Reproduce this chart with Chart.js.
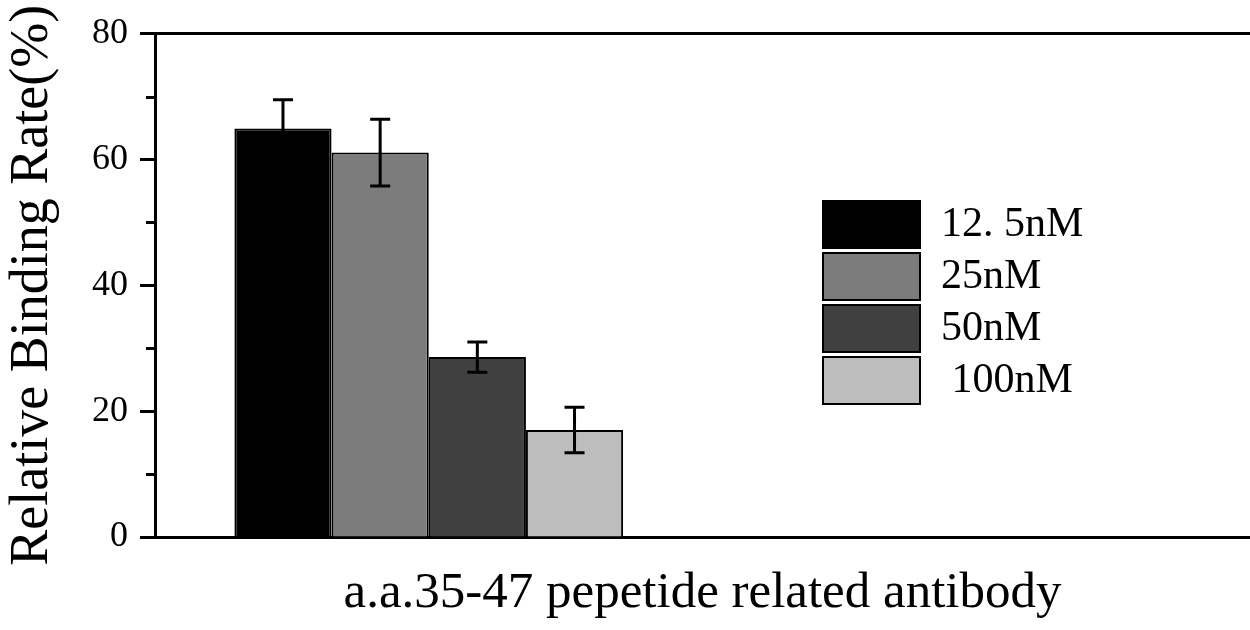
<!DOCTYPE html>
<html>
<head>
<meta charset="utf-8">
<script src="https://cdn.jsdelivr.net/npm/chart.js@4.4.1/dist/chart.umd.min.js"></script>
<style>
  html, body { margin: 0; padding: 0; background: #ffffff; }
  #wrap { width: 1250px; height: 630px; }
</style>
</head>
<body>
<div id="wrap"><canvas id="c" width="1250" height="630"></canvas></div>
<script>
// ---- data ----
const categories = ['a.a.35-47 pepetide related antibody', ''];
const seriesLabels = ['12. 5nM', '25nM', '50nM', ' 100nM'];
const seriesMeans = [64.9, 61.1, 28.6, 17.0];
const seriesErrors = [4.6, 5.3, 2.4, 3.6];
const seriesColors = ['#000000', '#7c7c7c', '#404040', '#bdbdbd'];
const yMajorTicks = [0, 20, 40, 60, 80];
const yMinorTicks = [10, 30, 50, 70];
const xTitle = 'a.a.35-47 pepetide related antibody';
const yTitle = 'Relative Binding Rate(%)';

const FONT = "'Liberation Serif', 'Times New Roman', serif";

const datasets = seriesLabels.map((lab, i) => ({
  label: lab,
  data: categories.map((c, j) => (j === 0 ? seriesMeans[i] : null)),
  errors: categories.map((c, j) => (j === 0 ? seriesErrors[i] : null)),
  backgroundColor: seriesColors[i],
  borderColor: '#000000',
  borderWidth: 2,
  barPercentage: 1.0,
  categoryPercentage: 0.71
}));

const errorBars = {
  id: 'errorBars',
  afterDatasetsDraw(chart) {
    const ctx = chart.ctx;
    const ys = chart.scales.y;
    ctx.save();
    ctx.strokeStyle = '#000000';
    ctx.lineWidth = 3;
    chart.data.datasets.forEach((ds, i) => {
      const meta = chart.getDatasetMeta(i);
      meta.data.forEach((el, j) => {
        const v = ds.data[j], e = ds.errors[j];
        if (v == null || e == null) return;
        const yt = ys.getPixelForValue(v + e);
        const yb = ys.getPixelForValue(v - e);
        const x = el.x;
        ctx.beginPath();
        ctx.moveTo(x, yt); ctx.lineTo(x, yb);
        ctx.moveTo(x - 10, yt); ctx.lineTo(x + 10, yt);
        ctx.moveTo(x - 10, yb); ctx.lineTo(x + 10, yb);
        ctx.stroke();
      });
    });
    ctx.restore();
  }
};

const minorTicks = {
  id: 'minorTicks',
  afterDraw(chart) {
    const ctx = chart.ctx;
    const ys = chart.scales.y;
    const left = chart.chartArea.left;
    ctx.save();
    ctx.strokeStyle = '#000000';
    ctx.lineWidth = 3;
    yMinorTicks.forEach(v => {
      const y = Math.round(ys.getPixelForValue(v)) + 0.5;
      ctx.beginPath();
      ctx.moveTo(left - 9, y); ctx.lineTo(left, y);
      ctx.stroke();
    });
    ctx.restore();
  }
};

const legendMover = {
  id: 'legendMover',
  afterLayout(chart) {
    const lg = chart.legend;
    if (!lg) return;
    const w = lg.width, h = lg.height;
    lg.left = 818; lg.top = 196;
    lg.right = lg.left + w; lg.bottom = lg.top + h;
  }
};

new Chart(document.getElementById('c'), {
  type: 'bar',
  data: { labels: categories, datasets: datasets },
  options: {
    responsive: false,
    animation: false,
    devicePixelRatio: 1,
    layout: { padding: 0 },
    plugins: {
      tooltip: { enabled: false },
      legend: {
        position: 'chartArea',
        align: 'start',
        labels: {
          boxWidth: 97,
          boxHeight: 47,
          padding: 5,
          color: '#000000',
          font: { family: FONT, size: 42 }
        }
      }
    },
    scales: {
      x: {
        type: 'category',
        position: 'bottom',
        offset: true,
        grid: { display: true, drawOnChartArea: false, drawTicks: false },
        border: { display: true, width: 3, color: '#000000' },
        ticks: { display: false },
        title: {
          display: true,
          text: xTitle,
          color: '#000000',
          font: { family: FONT, size: 51 },
          padding: { top: 0, bottom: 6 }
        },
        afterFit(s) { s.height = 93; }
      },
      x2: {
        type: 'category',
        position: 'top',
        labels: categories,
        grid: { display: true, drawOnChartArea: false, drawTicks: false },
        border: { display: true, width: 3, color: '#000000' },
        ticks: { display: false },
        afterFit(s) { s.height = 33; }
      },
      y: {
        type: 'linear',
        position: 'left',
        min: 0,
        max: 80,
        afterBuildTicks(s) { s.ticks = yMajorTicks.map(v => ({ value: v })); },
        grid: {
          display: true,
          drawOnChartArea: false,
          drawTicks: true,
          tickLength: 15,
          tickWidth: 3,
          tickColor: '#000000'
        },
        border: { display: true, width: 3, color: '#000000' },
        ticks: {
          padding: 12,
          color: '#000000',
          font: { family: FONT, size: 36 },
          callback: (v) => String(v)
        },
        title: {
          display: true,
          text: yTitle,
          color: '#000000',
          font: { family: FONT, size: 54 },
          padding: { top: 0, bottom: 0 }
        },
        afterFit(s) { s.width = 155; }
      }
    }
  },
  plugins: [errorBars, minorTicks, legendMover]
});
</script>
</body>
</html>
